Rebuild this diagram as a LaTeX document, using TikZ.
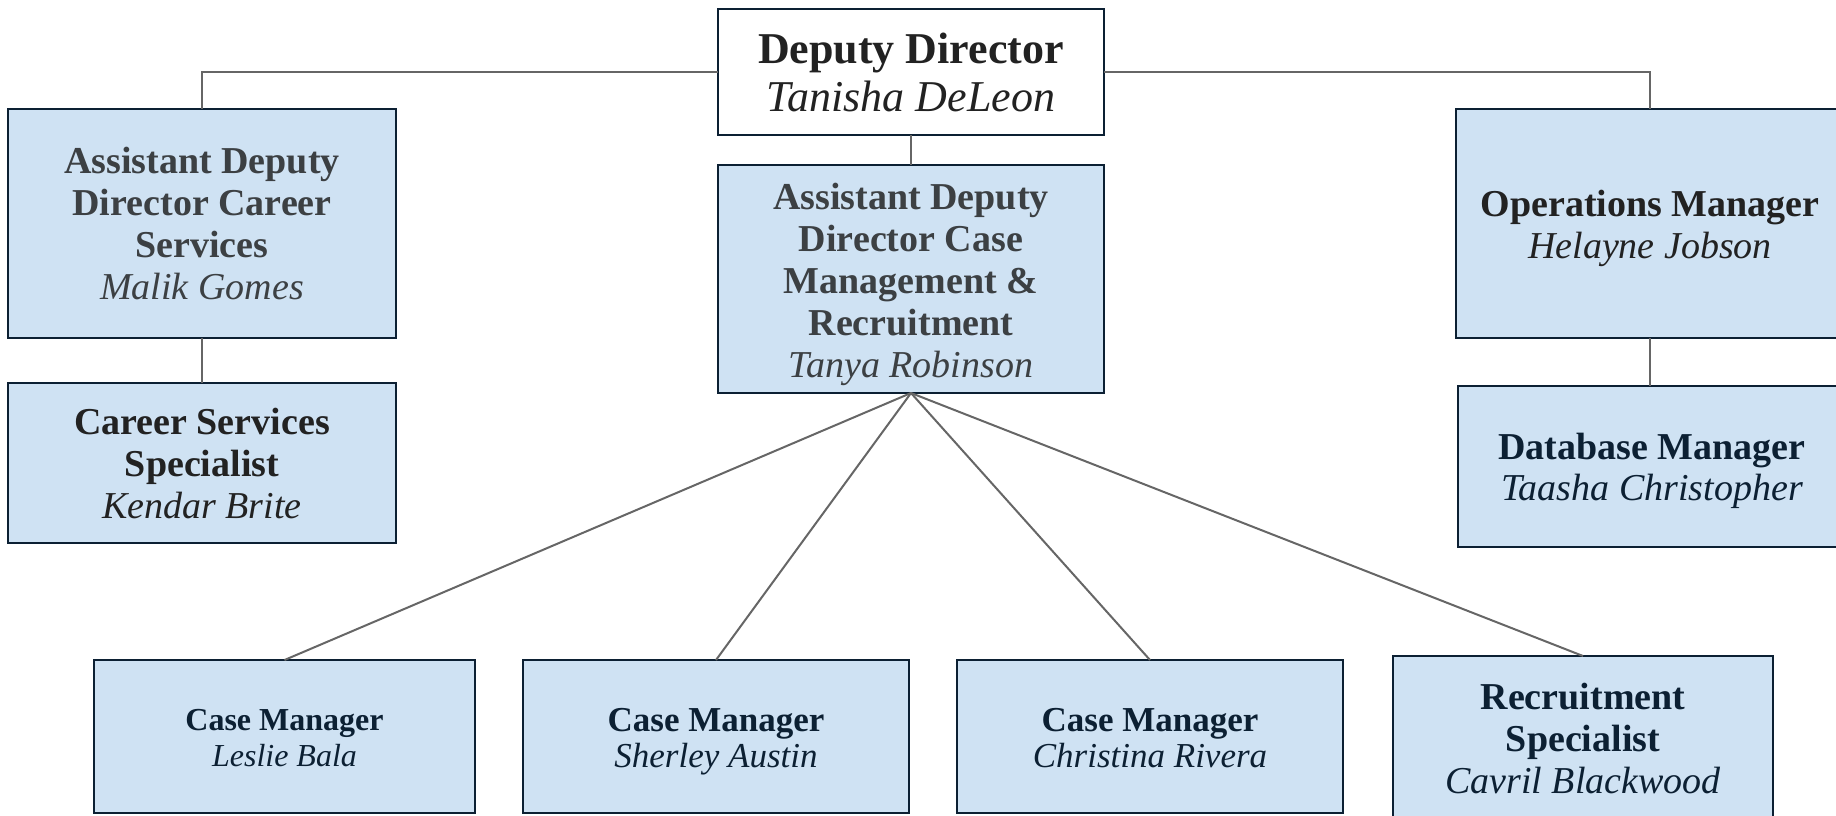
\documentclass[tikz,border=0pt]{standalone}
\usepackage{fontspec}
\setmainfont{Liberation Serif}
\definecolor{boxfill}{HTML}{CFE2F3}
\definecolor{boxdraw}{HTML}{0C2033}
\definecolor{linegray}{HTML}{666666}
\definecolor{txtdark}{HTML}{222222}
\definecolor{txtgray}{HTML}{3C4043}
\definecolor{txtnavy}{HTML}{0C2033}
\tikzset{
  box/.style={draw=boxdraw, line width=2.5pt, fill=boxfill, inner sep=0pt, outer sep=0pt},
  txt/.style={align=center, inner sep=0pt},
  conn/.style={draw=linegray, line width=2pt},
}
\newcommand{\ttl}[1]{{\bfseries #1}}
\newcommand{\nm}[1]{{\itshape #1}}
\begin{document}
\begin{tikzpicture}[x=1pt,y=-1pt]
\useasboundingbox (0,0) rectangle (1836,815);
\clip (0,0) rectangle (1836,815);
% boxes
\node[box, fill=white, minimum width=386, minimum height=126] (dd) at (911,72) {};
\node[box, minimum width=386, minimum height=228] (addc) at (911,279) {};
\node[box, minimum width=388, minimum height=229] (addcs) at (202,223.5) {};
\node[box, minimum width=388, minimum height=160] (css) at (202,463) {};
\node[box, minimum width=388, minimum height=229] (ops) at (1650,223.5) {};
\node[box, minimum width=388, minimum height=161] (db) at (1652,466.5) {};
\node[box, minimum width=381, minimum height=153] (cm1) at (284.5,736.5) {};
\node[box, minimum width=386, minimum height=153] (cm2) at (716,736.5) {};
\node[box, minimum width=386, minimum height=153] (cm3) at (1150,736.5) {};
\node[box, minimum width=380, minimum height=168] (rs) at (1583,740) {};
% texts
\node[txt, text=txtdark, font=\fontsize{44}{48}\selectfont] (ddt) at (dd.center)
  {\ttl{Deputy Director}\\\nm{Tanisha DeLeon}};
\node[txt, text=txtgray, font=\fontsize{38}{42}\selectfont] (addct) at ([yshift=-5pt]addc.center)
  {\ttl{Assistant Deputy}\\\ttl{Director Case}\\\ttl{Management \&}\\\ttl{Recruitment}\\\nm{Tanya Robinson}};
\node[txt, text=txtgray, font=\fontsize{38}{42}\selectfont] (addcst) at (addcs.center)
  {\ttl{Assistant Deputy}\\\ttl{Director Career}\\\ttl{Services}\\\nm{Malik Gomes}};
\node[txt, text=txtdark, font=\fontsize{38}{42}\selectfont] (csst) at (css.center)
  {\ttl{Career Services}\\\ttl{Specialist}\\\nm{Kendar Brite}};
\node[txt, text=txtdark, font=\fontsize{38}{42}\selectfont] (opst) at ([yshift=-4.5pt]ops.center)
  {\ttl{Operations Manager}\\\nm{Helayne Jobson}};
\node[txt, text=txtnavy, font=\fontsize{38}{41}\selectfont] (dbt) at ([yshift=-4pt]db.center)
  {\ttl{Database Manager}\\\nm{Taasha Christopher}};
\node[txt, text=txtnavy, font=\fontsize{32}{36}\selectfont] (cm1t) at ([yshift=-2pt]cm1.center)
  {\ttl{Case Manager}\\\nm{Leslie Bala}};
\node[txt, text=txtnavy, font=\fontsize{35}{36}\selectfont] (cm2t) at ([yshift=-5.5pt]cm2.center)
  {\ttl{Case Manager}\\\nm{Sherley Austin}};
\node[txt, text=txtnavy, font=\fontsize{35}{36}\selectfont] (cm3t) at ([yshift=-2pt]cm3.center)
  {\ttl{Case Manager}\\\nm{Christina Rivera}};
\node[txt, text=txtnavy, font=\fontsize{38}{42}\selectfont] (rst) at ([yshift=2pt]rs.center)
  {\ttl{Recruitment}\\\ttl{Specialist}\\\nm{Cavril Blackwood}};
% connectors
\draw[conn] (dd.west) -| (addcs.north);
\draw[conn] (dd.east) -| (ops.north);
\draw[conn] (dd.south) -- (addc.north);
\draw[conn] (addcs.south) -- (css.north);
\draw[conn] (ops.south) -- (ops.south |- db.north);
\draw[conn] (addc.south) -- (cm1.north);
\draw[conn] (addc.south) -- (cm2.north);
\draw[conn] (addc.south) -- (cm3.north);
\draw[conn] (addc.south) -- (rs.north);
\end{tikzpicture}
\end{document}
